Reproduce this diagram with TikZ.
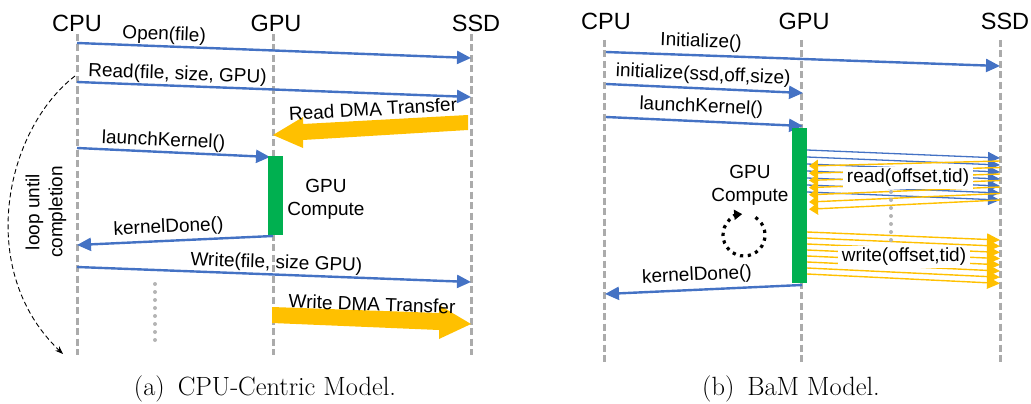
\documentclass[tikz,border=0pt]{standalone}
\usepackage{fontspec}
\newfontfamily\arialf{Liberation Sans}
\usetikzlibrary{arrows.meta,calc}
\definecolor{msgblue}{HTML}{4472C4}
\definecolor{dmayellow}{HTML}{FFC000}
\definecolor{gpugreen}{HTML}{00B050}
\definecolor{lifegray}{HTML}{ABABAB}
\definecolor{dotgray}{HTML}{B4B4B4}
\begin{document}
\begin{tikzpicture}[x=1pt,y=-1pt,
  lifeline/.style={lifegray, line width=3pt, dash pattern=on 7pt off 3.5pt},
  msg/.style={msgblue, line width=2.4pt, -{Triangle[length=14pt,width=13pt]}},
  hdr/.style={font=\arialf\fontsize{23.5}{26}\selectfont, anchor=base, inner sep=0pt},
  lbl/.style={font=\arialf\fontsize{19}{23}\selectfont, inner sep=0pt, text=black},
  bar/.style={fill=gpugreen, inner sep=0pt, anchor=north west, minimum width=15pt},
  dma/.style={fill=dmayellow},
  fanblue/.style={msgblue, line width=1.3pt, -{Triangle[length=12pt,width=11pt]}},
  fanback/.style={dmayellow, line width=1.4pt, -{Triangle[length=9pt,width=12pt]}},
  fanwrite/.style={dmayellow, line width=1.4pt, -{Triangle[length=13pt,width=12pt]}},
  grayvdots/.style={dotgray, line width=4pt, line cap=round, dash pattern=on 0pt off 8pt},
  loopcurve/.style={black, line width=0.9pt, dash pattern=on 5pt off 3pt, -{Stealth[length=8pt,width=6pt]}},
  spindots/.style={black, line width=3.2pt, dash pattern=on 3.2pt off 4.6pt, -{Triangle[length=8pt,width=10pt]}},
  caption/.style={font=\fontsize{26.4}{30}\selectfont, anchor=base, inner sep=0pt},
]
\useasboundingbox (0,0) rectangle (1031,404);

% ================= (a) CPU-centric =================
\node[hdr] (cpuA) at (77,32) {CPU};
\node[hdr] (gpuA) at (276,32) {GPU};
\node[hdr] (ssdA) at (476,32) {SSD};
\coordinate (cpuAt) at (77,34);  \coordinate (cpuAb) at (77,355);
\coordinate (gpuAt) at (273,34); \coordinate (gpuAb) at (273,355);
\coordinate (ssdAt) at (471,34); \coordinate (ssdAb) at (471,355);
\draw[lifeline] (cpuAt) -- (cpuAb);
\draw[lifeline] (gpuAt) -- (gpuAb);
\draw[lifeline] (ssdAt) -- (ssdAb);

\coordinate (a1s) at (77,43);  \coordinate (a1e) at (471,58);
\draw[msg] (a1s) -- node[lbl, pos=0.22, sloped, above=1pt] {Open(file)} (a1e);
\coordinate (a2s) at (77,82);  \coordinate (a2e) at (471,97);
\draw[msg] (a2s) -- node[lbl, pos=0.254, sloped, above=1pt] {Read(file, size, GPU)} (a2e);

% read DMA transfer
\fill[dma] (468,115) -- (303,124) -- (303,117) -- (273,135) -- (303,148) -- (303,140) -- (468,130) -- cycle;
\node[lbl, rotate=3.3] (rdma) at (373,109) {Read DMA Transfer};

\coordinate (a3s) at (77,148); \coordinate (a3e) at (270,157);
\draw[msg] (a3s) -- node[lbl, pos=0.446, sloped, above=1pt] {launchKernel()} (a3e);

\node[bar, minimum height=79pt] (barA) at (268,156) {};
\node[lbl, align=center] (compA) at (326,199) {GPU\\Compute};

\coordinate (a4s) at (273,236); \coordinate (a4e) at (77,245);
\draw[msg] (a4s) -- node[lbl, pos=0.53, sloped, above=3pt] {kernelDone()} (a4e);

\coordinate (a5s) at (77,267); \coordinate (a5e) at (471,282);
\draw[msg] (a5s) -- node[lbl, pos=0.505, sloped, above=1pt] {Write(file, size GPU)} (a5e);

% write DMA transfer
\fill[dma] (272,307) -- (439,313) -- (439,305) -- (471,324) -- (439,339) -- (439,330) -- (272,323) -- cycle;
\node[lbl, rotate=-2] (wdma) at (372,304) {Write DMA Transfer};

\coordinate (dAt) at (155,284); \coordinate (dAb) at (155,343);
\draw[grayvdots] (dAt) -- (dAb);

% loop
\coordinate (lpS) at (75,76); \coordinate (lpE) at (63,354);
\draw[loopcurve] (lpS) .. controls (5,130) and (-25,270) .. (lpE);
\node[lbl, rotate=90, align=center] (loopA) at (46,212) {loop until\\completion};

\node[caption] (capA) at (265,395) {(a)\hspace{13pt}CPU-Centric Model.};

% ================= (b) BaM =================
\node[hdr] (cpuB) at (606,30) {CPU};
\node[hdr] (gpuB) at (804,30) {GPU};
\node[hdr] (ssdB) at (1005,30) {SSD};
\coordinate (cpuBt) at (604,40);  \coordinate (cpuBb) at (604,362);
\coordinate (gpuBt) at (801,40);  \coordinate (gpuBb) at (801,362);
\coordinate (ssdBt) at (1000,40); \coordinate (ssdBb) at (1000,362);
\draw[lifeline] (cpuBt) -- (cpuBb);
\draw[lifeline] (gpuBt) -- (gpuBb);
\draw[lifeline] (ssdBt) -- (ssdBb);

\coordinate (b1s) at (606,52);  \coordinate (b1e) at (1000,66);
\draw[msg] (b1s) -- node[lbl, pos=0.24, sloped, above=3pt] {Initialize()} (b1e);
\coordinate (b2s) at (606,84);  \coordinate (b2e) at (803,93);
\draw[msg] (b2s) -- node[lbl, pos=0.49, sloped, above=3pt] {initialize(ssd,off,size)} (b2e);
\coordinate (b3s) at (606,117); \coordinate (b3e) at (803,126);
\draw[msg] (b3s) -- node[lbl, pos=0.48, sloped, above=4pt] {launchKernel()} (b3e);

% read fan
\foreach \i in {0,...,6} {
  \coordinate (rbS\i) at (807,150+7*\i);
  \coordinate (rbE\i) at (1000,158+7*\i);
  \draw[fanblue] (rbS\i) -- (rbE\i);
}
\foreach \i in {0,...,6} {
  \coordinate (ryS\i) at (1000,161+6.5*\i);
  \coordinate (ryE\i) at (809,166+7.2*\i);
  \draw[fanback] (ryS\i) -- (ryE\i);
}
% write fan
\foreach \i in {0,...,7} {
  \coordinate (wyS\i) at (807,232+6*\i);
  \coordinate (wyE\i) at (1000,240+6.2*\i);
  \draw[fanwrite] (wyS\i) -- (wyE\i);
}
\coordinate (dBt) at (891,192); \coordinate (dBb) at (891,243);
\draw[grayvdots] (dBt) -- (dBb);
\node[lbl, fill=white, inner xsep=4pt, inner ysep=2pt] (rdlbl) at (908,178) {read(offset,tid)};
\node[lbl, fill=white, inner xsep=4pt, inner ysep=2pt] (wrlbl) at (904,257) {write(offset,tid)};

\node[bar, minimum height=155pt] (barB) at (792,128) {};
\node[lbl, align=center] (compB) at (750,185) {GPU\\Compute};

% spinning loop
\coordinate (spin) at (744,235);
\draw[spindots] ([shift={(57:21pt)}]spin) arc[start angle=57, end angle=-265, radius=21pt];

\coordinate (b4s) at (802,285); \coordinate (b4e) at (605,294);
\draw[msg] (b4s) -- node[lbl, pos=0.53, sloped, above=4pt] {kernelDone()} (b4e);

\node[caption] (capB) at (791,395) {(b)\hspace{13pt}BaM Model.};
\end{tikzpicture}
\end{document}
